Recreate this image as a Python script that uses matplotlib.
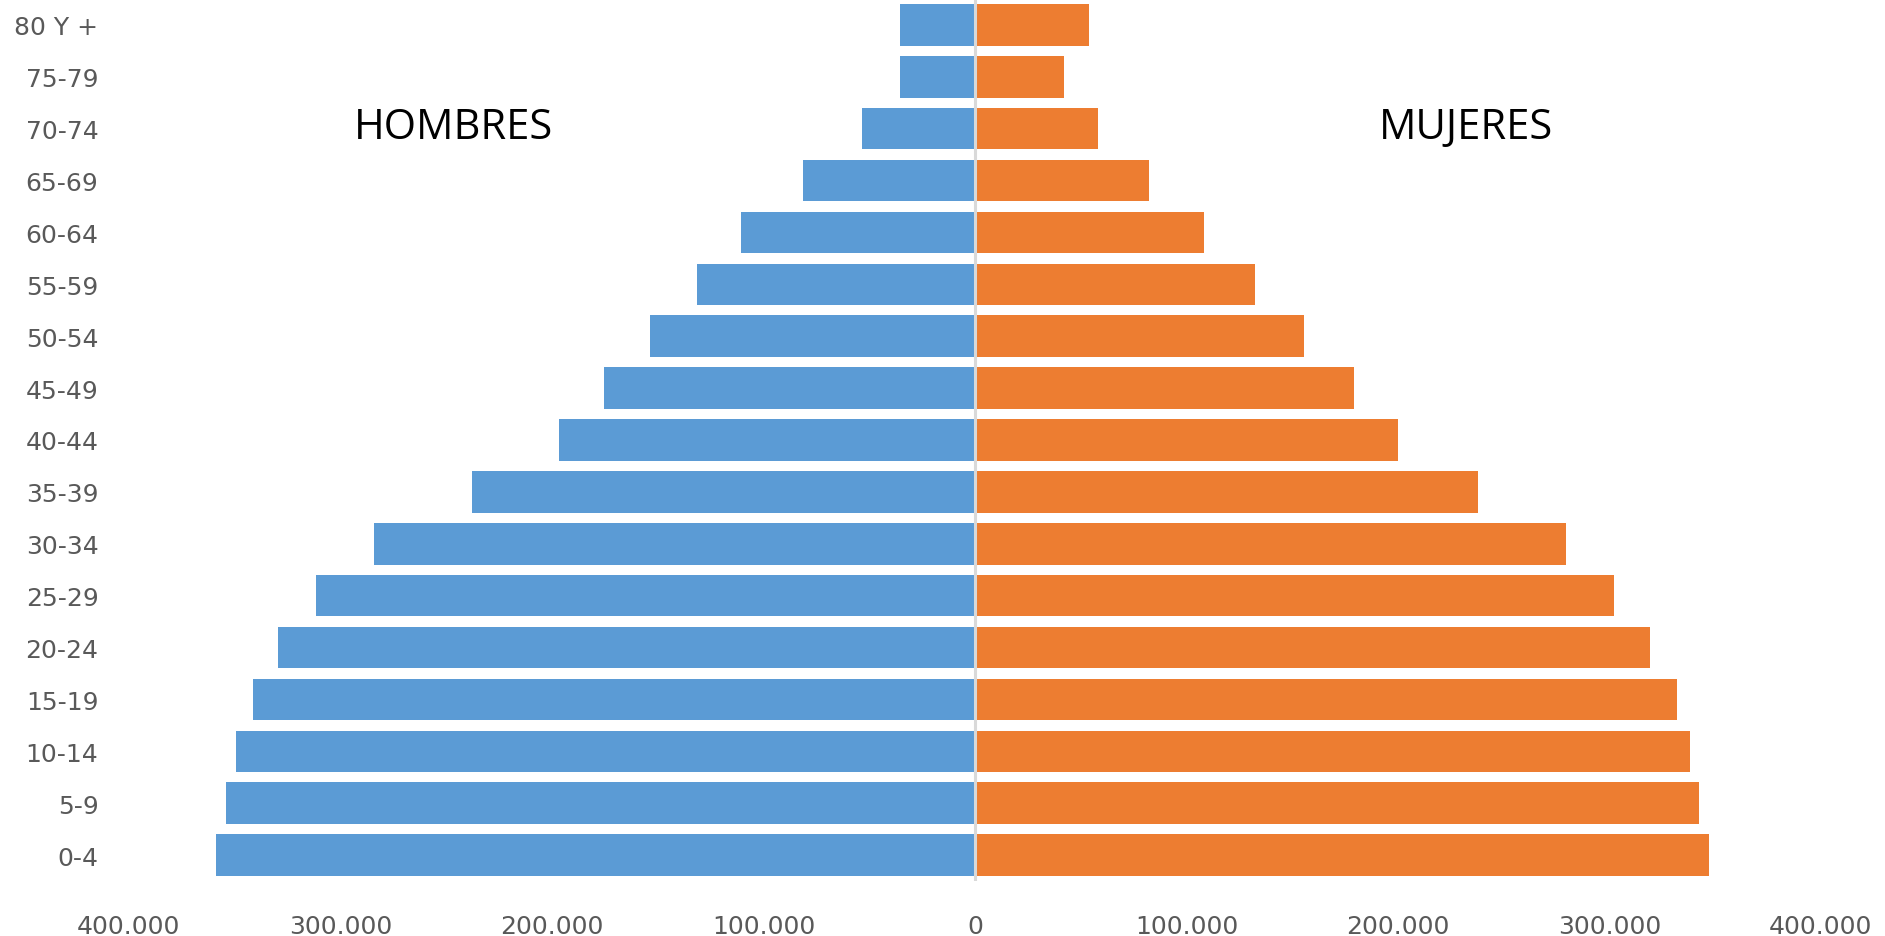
import matplotlib.pyplot as plt
from matplotlib.ticker import FuncFormatter

# age groups, bottom to top
age_groups = ['0-4', '5-9', '10-14', '15-19', '20-24', '25-29', '30-34', '35-39',
              '40-44', '45-49', '50-54', '55-59', '60-64', '65-69', '70-74', '75-79', '80 Y +']
hombres = [359000, 354000, 349500, 341500, 329500, 311500, 284000, 238000,
           196500, 175500, 153500, 131500, 110500, 81500, 53500, 35500, 35500]
mujeres = [347000, 342500, 338000, 332000, 319000, 302000, 279500, 238000,
           200000, 179000, 155500, 132500, 108500, 82500, 58000, 42000, 54000]
x_ticks = [-400000, -300000, -200000, -100000, 0, 100000, 200000, 300000, 400000]

blue = '#5B9BD5'
orange = '#ED7D31'
grey_text = '#595959'


def miles(v, pos=None):
    # spanish thousands separator, no minus sign
    return '{:,.0f}'.format(abs(v)).replace(',', '.')


fig = plt.figure(figsize=(18.85, 9.37), dpi=100)
ax = fig.add_axes([0.0684, 0.0587, 0.8976, 0.9413])

ypos = list(range(len(age_groups)))
ax.barh(ypos, [-v for v in hombres], height=0.8, color=blue, zorder=2)
ax.barh(ypos, mujeres, height=0.8, color=orange, zorder=2)
ax.axvline(0, color='#d9d9d9', lw=2.2, zorder=3)

ax.set_xlim(-400000, 400000)
ax.set_ylim(-0.5, len(age_groups) - 0.5)
ax.set_xticks(x_ticks)
ax.xaxis.set_major_formatter(FuncFormatter(miles))
ax.set_yticks(ypos)
ax.set_yticklabels(age_groups)

ax.tick_params(axis='both', length=0, labelsize=18, colors=grey_text)
ax.tick_params(axis='x', pad=24)
ax.tick_params(axis='y', pad=22)
for s in ax.spines.values():
    s.set_visible(False)

ax.text(0.192, 0.855, 'HOMBRES', transform=ax.transAxes, ha='center', va='center',
        fontsize=30, family='Open Sans', color='black')
ax.text(0.79, 0.855, 'MUJERES', transform=ax.transAxes, ha='center', va='center',
        fontsize=30, family='Open Sans', color='black')

fig.savefig('out.png', dpi=100)
